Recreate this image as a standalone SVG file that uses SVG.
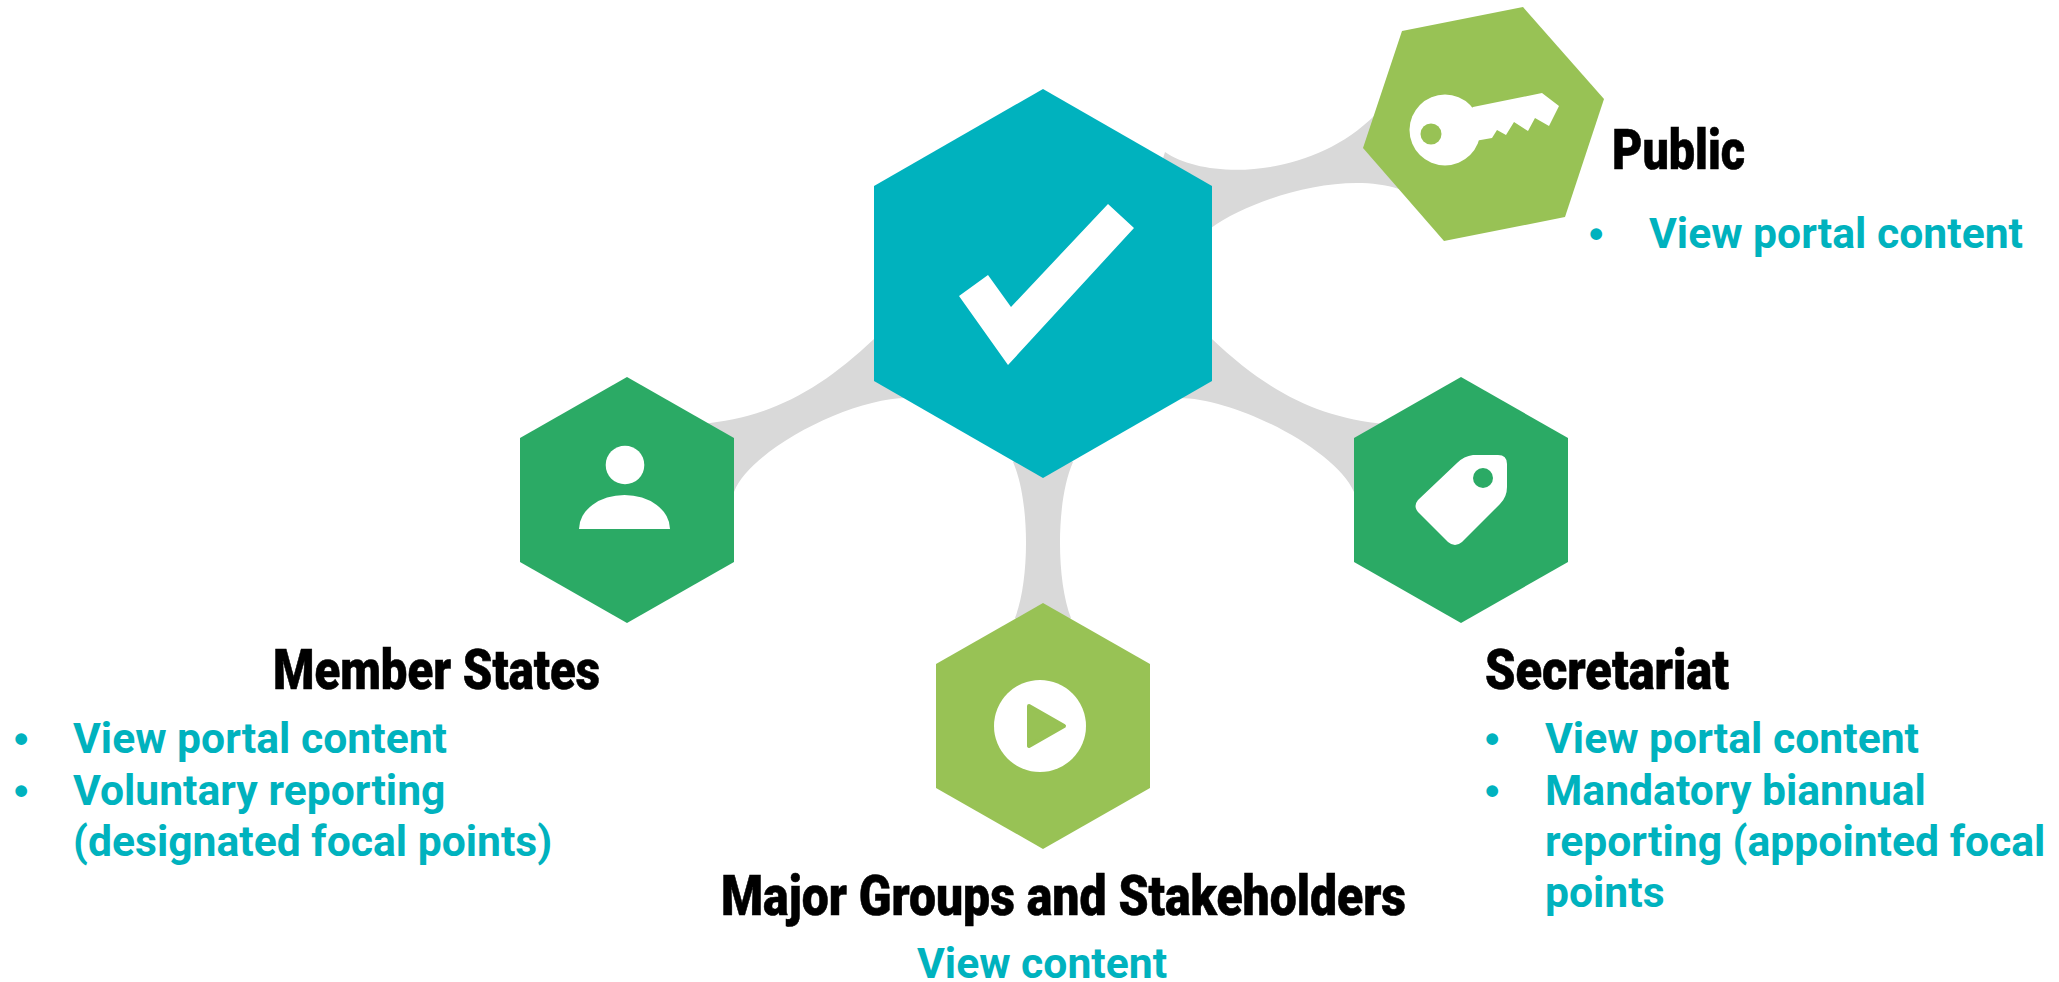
<svg xmlns="http://www.w3.org/2000/svg" width="2059" height="982" viewBox="0 0 2059 982">
<style>
.teal{fill:#00B2BE}.green{fill:#2BAA65}.lime{fill:#98C255}.wh{fill:#fff}
.link{fill:#D9D9D9}
.h{font-family:"Roboto","Liberation Sans",sans-serif;font-weight:900;font-size:56px;fill:#000;stroke:#000;stroke-width:.6}
.b{font-family:"Roboto","Liberation Sans",sans-serif;font-weight:700;font-size:42.67px;fill:#00B2BE}
.d{font-family:"Liberation Sans",Arial,sans-serif;font-weight:700;font-size:41px;fill:#00B2BE}
</style>
<rect width="2059" height="982" fill="#fff"/>
<g id="connectors">
<path class="link" d="M700,424 C770,418 820,390 874,339 L930,400 L907,398 C850,398 750,450 734,492 L700,500 Z"/>
<path class="link" d="M1386,424 C1316,418 1266,390 1212,339 L1156,400 L1179,398 C1236,398 1336,450 1354,492 L1386,500 Z"/>
<path class="link" d="M1013,462 C1030,500 1030,580 1015,618 L1043,640 L1071,618 C1056,580 1056,500 1073,462 L1043,440 Z"/>
<path class="link" d="M1165,152 C1205,180 1310,180 1375,115 L1420,200 L1399,189 C1340,170 1250,200 1211,228 L1150,200 Z"/>
</g>
<g id="node-center">
<polygon class="teal" points="1043,89 1212,186 1212,381 1043,478 874,381 874,186"/>
<polygon class="wh" points="1108,204 1134,228 1008,365 959,296 988,275 1011,307"/>
</g>
<g id="node-public">
<polygon class="lime" points="1523,7 1604,99 1565,217 1444,241 1363,148 1402,31"/>
<circle class="wh" cx="1445" cy="130" r="35.5"/>
<polygon class="wh" points="1473,107 1542,93 1559,106 1549,126 1535,118 1528,131 1514,122 1506,135 1497,130 1492,138 1475,141 1460,120"/>
<circle class="lime" cx="1431" cy="134" r="10.5"/>
<text class="h" x="1612" y="169" textLength="133" lengthAdjust="spacingAndGlyphs">Public</text>
<text class="d" x="1589" y="248">•</text>
<text class="b" x="1649" y="248">View portal content</text>
</g>
<g id="node-member-states">
<polygon class="green" points="627,377 734,438 734,562 627,623 520,562 520,438"/>
<circle class="wh" cx="625" cy="465" r="19.3"/>
<path class="wh" d="M579,529 A45.5,34 0 0 1 670,529 Z"/>
<text class="h" x="273" y="689" textLength="327" lengthAdjust="spacingAndGlyphs">Member States</text>
<text class="d" x="14" y="753">•</text>
<text class="b" x="73" y="753">View portal content</text>
<text class="d" x="14" y="805">•</text>
<text class="b" x="73" y="805">Voluntary reporting</text>
<text class="b" x="73" y="856">(designated focal points)</text>
</g>
<g id="node-secretariat">
<polygon class="green" points="1461,377 1568,438 1568,562 1461,623 1354,562 1354,438"/>
<path class="wh" d="M1457,463 Q1464,456 1473,455 L1498,455 Q1507,455 1507,464 L1507,487 Q1507,497 1500,504 L1462,542 Q1455,548 1448,542 L1418,512 Q1413,506 1418,500 Z"/>
<circle class="green" cx="1483" cy="478" r="10"/>
<text class="h" x="1485" y="689" textLength="244" lengthAdjust="spacingAndGlyphs">Secretariat</text>
<text class="d" x="1485" y="753">•</text>
<text class="b" x="1545" y="753">View portal content</text>
<text class="d" x="1485" y="805">•</text>
<text class="b" x="1545" y="805">Mandatory biannual</text>
<text class="b" x="1545" y="856">reporting (appointed focal</text>
<text class="b" x="1545" y="907">points</text>
</g>
<g id="node-major-groups">
<polygon class="lime" points="1043,603 1150,664 1150,788 1043,849 936,788 936,664"/>
<circle class="wh" cx="1040" cy="726" r="46"/>
<polygon class="lime" points="1029,706 1064,726 1029,746" stroke="#98C255" stroke-width="4" stroke-linejoin="round"/>
<text class="h" x="721" y="915" textLength="685" lengthAdjust="spacingAndGlyphs">Major Groups and Stakeholders</text>
<text class="b" x="917" y="978">View content</text>
</g>
</svg>
